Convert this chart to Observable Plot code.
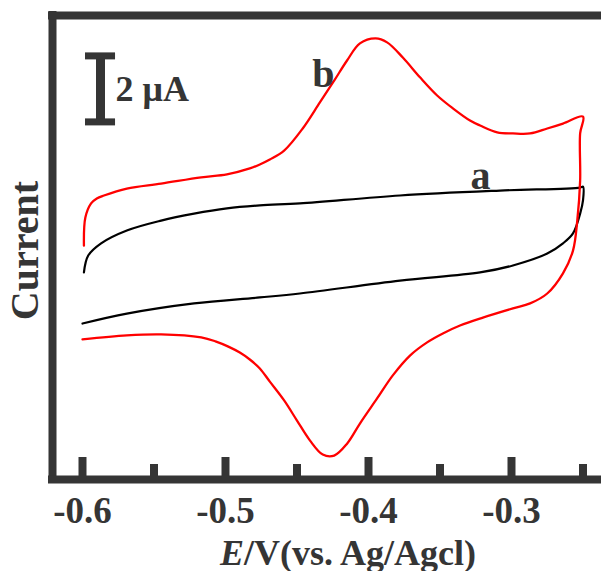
<!DOCTYPE html>
<html><head><meta charset="utf-8">
<script src="https://cdn.jsdelivr.net/npm/d3@7"></script>
<script src="https://cdn.jsdelivr.net/npm/@observablehq/plot@0.6"></script>
<style>html,body{margin:0;padding:0;background:#fff;} #chart svg{display:block;}</style>
</head><body><div id="chart"></div>
<script>
// ---- data (potential E in V vs. Ag/AgCl, current I in µA, arbitrary zero) ----
const E_TICKS = [-0.6, -0.5, -0.4, -0.3];
const E_MINOR = [-0.55, -0.45, -0.35, -0.25];
const TICK_LABELS = ["-0.6", "-0.5", "-0.4", "-0.3"];

// curve b (red): forward scan then reverse scan
const redE = [-0.599,-0.598,-0.594,-0.590,-0.585,-0.569,-0.545,-0.517,-0.499,-0.483,-0.476,-0.469,-0.459,-0.446,-0.434,-0.424,-0.415,-0.406,-0.395,-0.387,-0.376,-0.364,-0.352,-0.341,-0.329,-0.322,-0.310,-0.299,-0.287,-0.275,-0.264,-0.250,
  -0.252,-0.252,-0.254,-0.257,-0.264,-0.275,-0.287,-0.299,-0.320,-0.336,-0.348,-0.359,-0.371,-0.383,-0.394,-0.406,-0.415,-0.424,-0.432,-0.441,-0.450,-0.459,-0.469,-0.476,-0.483,-0.490,-0.498,-0.507,-0.517,-0.545,-0.569,-0.600];
const redI = [0.45,1.30,1.73,1.88,1.97,2.18,2.33,2.52,2.61,2.79,2.91,3.06,3.33,4.00,4.79,5.45,6.06,6.58,6.73,6.61,6.15,5.55,5.00,4.61,4.24,4.09,3.88,3.85,3.85,4.00,4.15,4.36,
  3.85,2.42,1.21,0.30,-0.39,-1.00,-1.30,-1.45,-1.73,-1.97,-2.21,-2.48,-2.88,-3.48,-4.18,-4.94,-5.55,-5.91,-5.88,-5.45,-4.85,-4.24,-3.67,-3.27,-3.00,-2.79,-2.61,-2.45,-2.33,-2.24,-2.27,-2.39];

// curve a (black)
const blackE = [-0.599,-0.596,-0.587,-0.569,-0.545,-0.522,-0.499,-0.476,-0.448,-0.378,-0.308,-0.252,-0.250,
  -0.250,-0.252,-0.257,-0.264,-0.275,-0.299,-0.322,-0.378,-0.448,-0.476,-0.522,-0.569,-0.600];
const blackI = [-0.36,0.15,0.52,0.91,1.21,1.42,1.58,1.67,1.73,1.97,2.12,2.21,2.24,
  1.82,1.42,0.82,0.52,0.21,-0.15,-0.36,-0.61,-1.00,-1.12,-1.30,-1.61,-1.91];

const SERIES_LABELS = ["a", "b"];
const SCALE_BAR_UA = 2;
const SCALE_TEXT = "2 μA";
const Y_TITLE = "Current";
const X_TITLE = "E/V(vs. Ag/Agcl)";

// ---- build tables ----
const red = redE.map((e, i) => ({E: e, I: redI[i]}));
const black = blackE.map((e, i) => ({E: e, I: blackI[i]}));

const xMin = -0.62098, xMax = -0.23706;
const yMin = -6.636, yMax = 7.424;
const dark = "#353535";
const font = "'Liberation Serif', 'Times New Roman', serif";

const barE = -0.5874, barLow = 4.2, barHigh = barLow + SCALE_BAR_UA, serif = 0.0105;

const chart = Plot.plot({
  width: 601, height: 571,
  marginLeft: 52, marginRight: 0, marginTop: 15, marginBottom: 92,
  style: {fontFamily: font, fontWeight: "bold", fontSize: "37px", color: dark, background: "white", overflow: "visible"},
  x: {domain: [xMin, xMax], ticks: E_TICKS, tickFormat: d => TICK_LABELS[E_TICKS.indexOf(d)] ?? d.toFixed(1), tickSize: 0, tickPadding: 17, label: null},
  y: {domain: [yMin, yMax], axis: null},
  marks: [
    // frame (left, top, bottom)
    Plot.ruleX([xMin], {stroke: dark, strokeWidth: 8, strokeLinecap: "square"}),
    Plot.ruleY([yMax], {stroke: dark, strokeWidth: 8, strokeLinecap: "square"}),
    Plot.ruleY([yMin], {stroke: dark, strokeWidth: 8, strokeLinecap: "square"}),
    // inward ticks
    Plot.ruleX(E_TICKS, {x: d => d, insetTop: 442, stroke: dark, strokeWidth: 8}),
    Plot.ruleX(E_MINOR, {x: d => d, insetTop: 449, stroke: dark, strokeWidth: 8}),
    // curves
    Plot.line(black, {x: "E", y: "I", stroke: "#000", strokeWidth: 2.2, curve: "catmull-rom"}),
    Plot.line(red, {x: "E", y: "I", stroke: "#ff0000", strokeWidth: 2.3, curve: "catmull-rom"}),
    // scale bar
    Plot.ruleX([barE], {x: d => d, y1: barLow, y2: barHigh, stroke: dark, strokeWidth: 9}),
    Plot.ruleY([barLow, barHigh], {y: d => d, x1: barE - serif, x2: barE + serif, stroke: dark, strokeWidth: 7}),
    Plot.text([SCALE_TEXT], {x: -0.5769, y: 5.18, text: d => d, textAnchor: "start", fontSize: 36, fontWeight: "bold", fill: dark}),
    // series labels
    Plot.text([SERIES_LABELS[0]], {x: -0.3217, y: 2.56, text: d => d, fontSize: 40, fontWeight: "bold", fill: dark}),
    Plot.text([SERIES_LABELS[1]], {x: -0.4315, y: 5.65, text: d => d, fontSize: 40, fontWeight: "bold", fill: dark}),
    // axis titles
    Plot.text([Y_TITLE], {frameAnchor: "left", dx: -27, dy: 3, rotate: -90, textAnchor: "middle", lineAnchor: "middle", text: d => d, fontSize: 40, fontWeight: "bold", fill: dark}),
    Plot.text([X_TITLE], {frameAnchor: "bottom", dx: 21, dy: 85, text: d => d, fontSize: 36, fontWeight: "bold", fill: dark})
  ]
});

// italicise the "E" of the x title
chart.querySelectorAll("text").forEach(t => {
  if (t.textContent === X_TITLE) {
    t.textContent = "";
    const ns = "http://www.w3.org/2000/svg";
    const a = document.createElementNS(ns, "tspan");
    a.setAttribute("font-style", "italic");
    a.textContent = "E";
    const b = document.createElementNS(ns, "tspan");
    b.textContent = X_TITLE.slice(1);
    t.appendChild(a); t.appendChild(b);
  }
});

document.getElementById("chart").appendChild(chart);
</script>
</body></html>
